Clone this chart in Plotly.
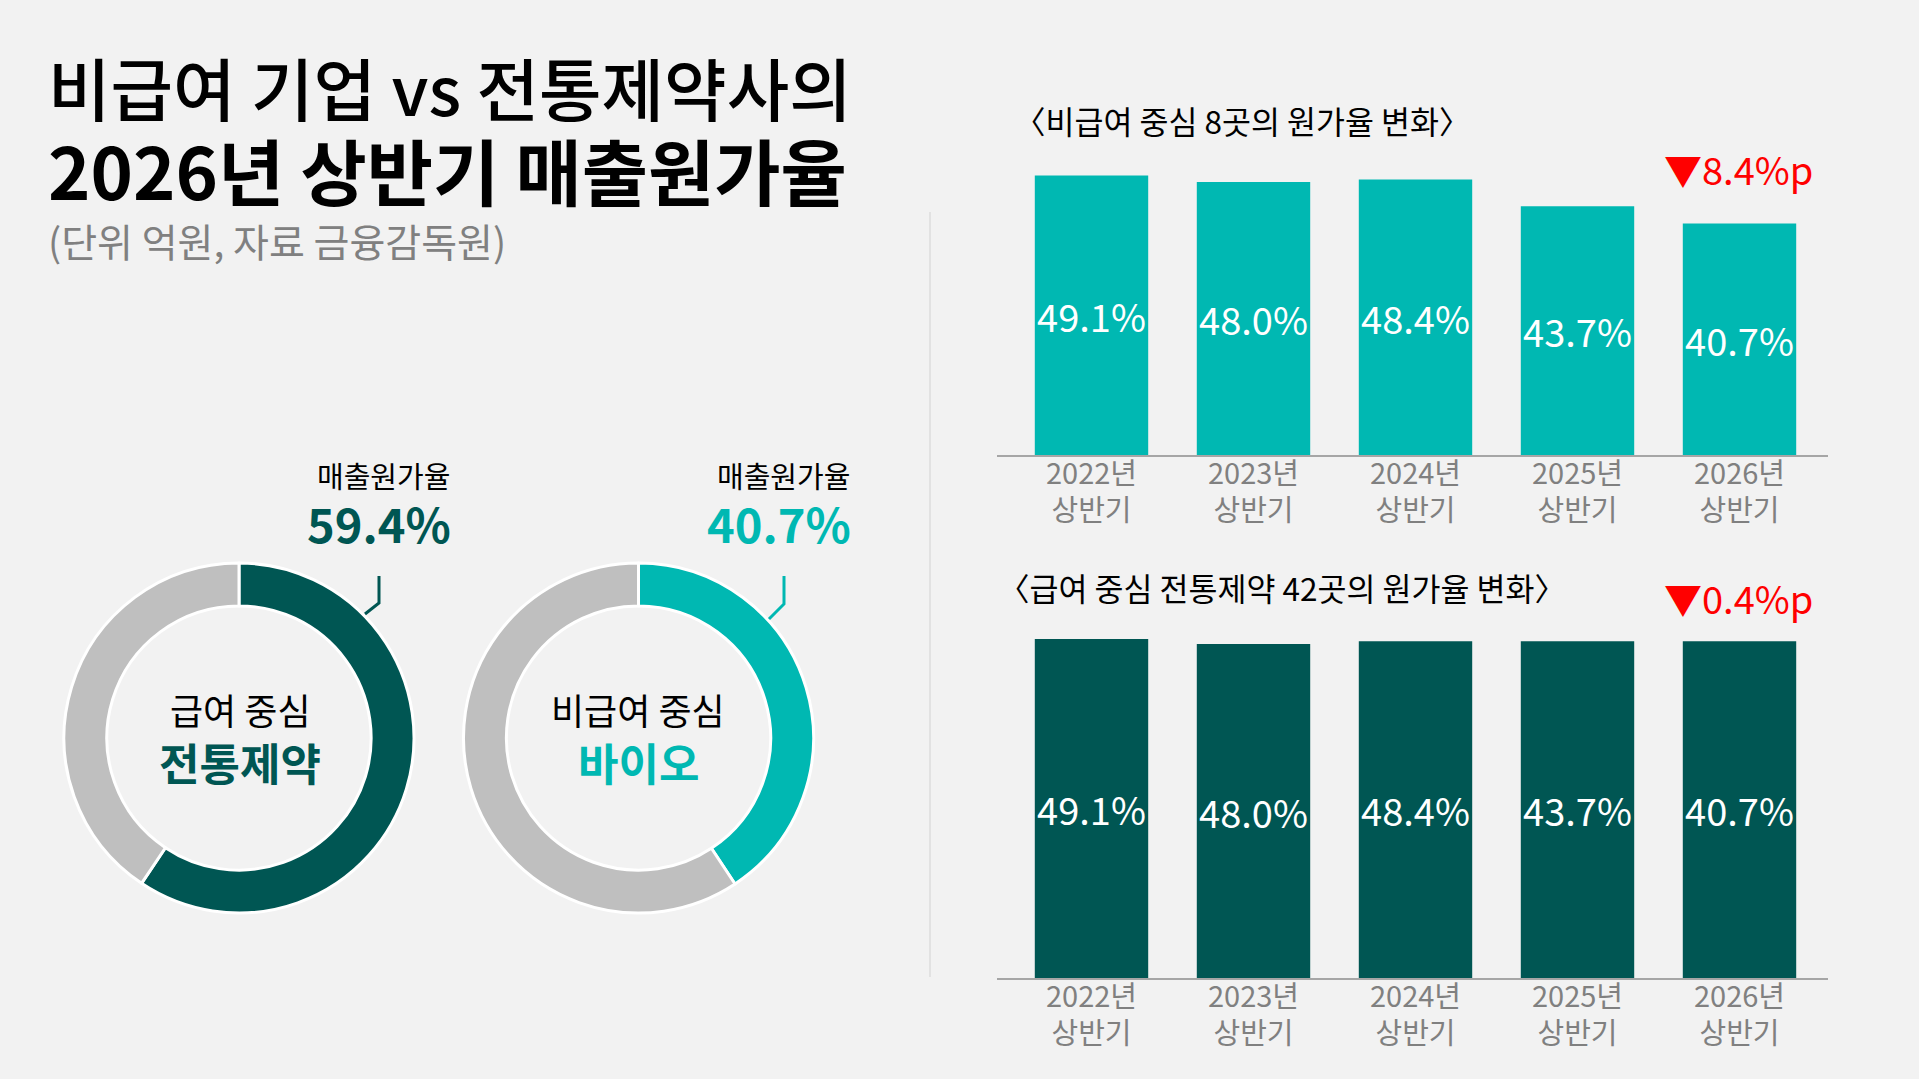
import plotly.graph_objects as go

W, H = 1919, 1079
FONT = "Noto Sans CJK KR"

# 데이터
categories = ["2022년<br>상반기", "2023년<br>상반기", "2024년<br>상반기", "2025년<br>상반기", "2026년<br>상반기"]
bio_values = [49.1, 48.0, 48.4, 43.7, 40.7]          # 비급여 중심 8곳
pharma_values = [59.8, 58.9, 59.4, 59.4, 59.4]       # 급여 중심 전통제약 42곳 (막대 높이)
pharma_labels = ["49.1%", "48.0%", "48.4%", "43.7%", "40.7%"]  # 원본 그림에 적힌 라벨 그대로
bio_change = "▼8.4%p"
pharma_change = "▼0.4%p"

pharma_share = [59.4, 40.6]   # 급여 중심 전통제약 매출원가율
bio_share = [40.7, 59.3]      # 비급여 중심 바이오 매출원가율

DARK = "#005653"
TEAL = "#00B8B2"
GRAY = "#BFBFBF"
BG = "#F2F2F2"


def px(x):
    return x / W


def py(y):
    return 1 - y / H


fig = go.Figure()

# 막대 그래프 (위: 비급여, 아래: 전통제약)
fig.add_trace(go.Bar(
    x=categories, y=bio_values, xaxis="x", yaxis="y",
    marker_color=TEAL, marker_line_width=0,
    texttemplate="%{y:.1f}%", textposition="inside", insidetextanchor="middle",
    textangle=0, constraintext="none",
    insidetextfont=dict(family=FONT, size=38, color="white"),
    hoverinfo="skip",
))
fig.add_trace(go.Bar(
    x=categories, y=pharma_values, xaxis="x2", yaxis="y2",
    marker_color=DARK, marker_line_width=0,
    text=pharma_labels, textposition="inside", insidetextanchor="middle",
    textangle=0, constraintext="none",
    insidetextfont=dict(family=FONT, size=38, color="white"),
    hoverinfo="skip",
))

# 도넛 차트
R = 175
for cx, vals, col in [(239, pharma_share, DARK), (638.5, bio_share, TEAL)]:
    fig.add_trace(go.Pie(
        values=vals, sort=False, direction="clockwise", rotation=0,
        hole=0.755, textinfo="none", hoverinfo="skip",
        marker=dict(colors=[col, GRAY], line=dict(color="white", width=3)),
        domain=dict(x=[px(cx - R), px(cx + R)], y=[py(738 + R), py(738 - R)]),
    ))

xr = [(997 - 1091.5) / 162, (1828 - 1091.5) / 162]
axis_common = dict(
    type="category", range=xr, showline=True, linecolor="#A6A6A6", linewidth=1.5,
    showgrid=False, zeroline=False, ticks="", fixedrange=True, ticklabelstandoff=-8,
    tickfont=dict(family=FONT, size=29, color="#808080"),
)
fig.update_layout(
    width=W, height=H, autosize=False,
    margin=dict(l=0, r=0, t=0, b=0),
    paper_bgcolor=BG, plot_bgcolor=BG,
    showlegend=False, bargap=0.30,
    xaxis=dict(domain=[px(997), px(1828)], anchor="y", **axis_common),
    yaxis=dict(domain=[py(455), py(455 - 60 * 5.69)], range=[0, 60], visible=False),
    xaxis2=dict(domain=[px(997), px(1828)], anchor="y2", **axis_common),
    yaxis2=dict(domain=[py(978), py(978 - 60 * 5.67)], range=[0, 60], visible=False),
)


def note(text, x, y, size, color="black", xanchor="center", weight=None):
    f = dict(family=FONT, size=size, color=color)
    if weight:
        f["weight"] = weight
    fig.add_annotation(text=text, x=px(x), y=py(y), xref="paper", yref="paper",
                       xanchor=xanchor, yanchor="middle", showarrow=False, font=f)


# 제목
note("비급여 기업 vs 전통제약사의", 46, 87, 68, xanchor="left", weight=500)
note("<b>2026년 상반기 매출원가율</b>", 46, 169, 72, xanchor="left", weight=900)
note("(단위 억원, 자료 금융감독원)", 46, 240, 39, color="#808080", xanchor="left")

# 막대 제목과 변화량
note("〈비급여 중심 8곳의 원가율 변화〉", 1242, 120, 31.5)
note("〈급여 중심 전통제약 42곳의 원가율 변화〉", 1282, 587, 31.5)
note(bio_change, 1738, 169, 38, color="#FF0000")
note(pharma_change, 1738, 597, 38, color="#FF0000")

# 도넛 라벨
note("매출원가율", 452, 475, 29, xanchor="right")
note(f"<b>{pharma_share[0]:.1f}%</b>", 453, 522, 47, color=DARK, xanchor="right")
note("매출원가율", 852, 475, 29, xanchor="right")
note(f"<b>{bio_share[0]:.1f}%</b>", 853, 522, 47, color=TEAL, xanchor="right")

note("급여 중심", 240, 709, 36)
note("<b>전통제약</b>", 240, 762, 44, color=DARK)
note("비급여 중심", 638, 709, 36)
note("<b>바이오</b>", 638, 762, 44, color=TEAL)

# 지시선과 구분선
fig.add_shape(type="path", xref="paper", yref="paper",
              path=f"M {px(379)} {py(576)} L {px(379)} {py(603)} L {px(365)} {py(614)}",
              line=dict(color=DARK, width=3))
fig.add_shape(type="path", xref="paper", yref="paper",
              path=f"M {px(784)} {py(576)} L {px(784)} {py(604)} L {px(769)} {py(619)}",
              line=dict(color=TEAL, width=3))
fig.add_shape(type="line", xref="paper", yref="paper",
              x0=px(930), x1=px(930), y0=py(212), y1=py(977),
              line=dict(color="#E2E2E2", width=2))

fig.write_html("out.html", config={"displayModeBar": False},
               post_script="document.body.style.margin='0';document.body.style.overflow='hidden';")
